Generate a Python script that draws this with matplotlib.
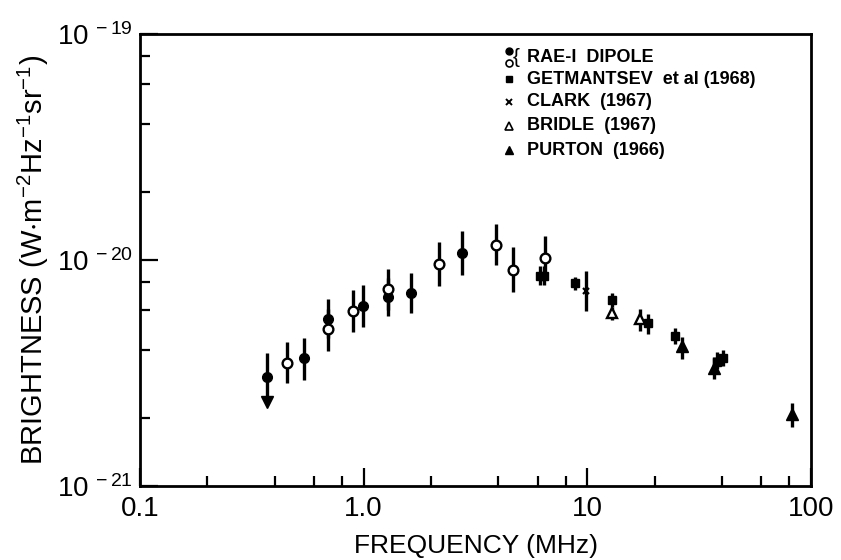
import matplotlib
matplotlib.use("Agg")
import matplotlib.pyplot as plt
from matplotlib.ticker import LogLocator, FixedLocator, NullFormatter, FixedFormatter
import numpy as np

plt.rcParams['font.family'] = ['Liberation Sans', 'DejaVu Sans']
plt.rcParams['mathtext.default'] = 'regular'

# RAE-1 dipole, filled circles: freq (MHz), brightness, upper, lower
rae_f_freq = [0.371, 0.54, 0.696, 0.99, 1.28, 1.62, 2.75]
rae_f_val = [3.05e-21, 3.67e-21, 5.5e-21, 6.24e-21, 6.84e-21, 7.14e-21, 1.071e-20]
rae_f_hi = [3.88e-21, 4.5e-21, 6.7e-21, 7.75e-21, 8.3e-21, 8.73e-21, 1.35e-20]
rae_f_lo = [2.45e-21, 2.94e-21, 4.5e-21, 5.04e-21, 5.65e-21, 5.81e-21, 8.59e-21]
rae_limit_freq = [0.371]
rae_limit_val = [2.36e-21]

# RAE-1 dipole, open circles
rae_o_freq = [0.452, 0.696, 0.894, 1.28, 2.18, 3.91, 4.63, 6.49]
rae_o_val = [3.50e-21, 4.97e-21, 5.95e-21, 7.42e-21, 9.57e-21, 1.165e-20, 9.06e-21, 1.017e-20]
rae_o_hi = [4.35e-21, 6.1e-21, 7.4e-21, 9.1e-21, 1.205e-20, 1.44e-20, 1.14e-20, 1.28e-20]
rae_o_lo = [2.85e-21, 3.97e-21, 4.82e-21, 6.0e-21, 7.67e-21, 9.5e-21, 7.24e-21, 8.16e-21]

# Getmantsev et al (1968), filled squares
get_freq = [6.12, 6.43, 8.84, 12.9, 18.6, 24.7, 38.0, 40.5]
get_val = [8.53e-21, 8.53e-21, 7.91e-21, 6.65e-21, 5.28e-21, 4.61e-21, 3.55e-21, 3.70e-21]
get_hi = [9.43e-21, 9.43e-21, 8.44e-21, 7.17e-21, 5.75e-21, 4.99e-21, 3.9e-21, 4.0e-21]
get_lo = [7.75e-21, 7.75e-21, 7.37e-21, 6.2e-21, 4.71e-21, 4.25e-21, 3.3e-21, 3.4e-21]

# Clark (1967), crosses
clark_freq = [9.87]
clark_val = [7.31e-21]
clark_hi = [8.94e-21]
clark_lo = [5.95e-21]

# Bridle (1967), open triangles
bridle_freq = [12.9, 17.2]
bridle_val = [5.81e-21, 5.47e-21]
bridle_hi = [6.2e-21, 6.05e-21]
bridle_lo = [5.43e-21, 4.87e-21]

# Purton (1966), filled triangles
purton_freq = [26.6, 37.0, 82.6]
purton_val = [4.16e-21, 3.32e-21, 2.08e-21]
purton_hi = [4.58e-21, 3.73e-21, 2.32e-21]
purton_lo = [3.64e-21, 2.99e-21, 1.83e-21]

x_ticks = [0.1, 1.0, 10, 100]
x_ticklabels = ['0.1', '1.0', '10', '100']
y_ticks = [1e-21, 1e-20, 1e-19]
y_ticklabels = [r'$10^{\,-21}$', r'$10^{\,-20}$', r'$10^{\,-19}$']

fig = plt.figure(figsize=(8.41, 5.6), dpi=100)
ax = fig.add_axes([0.1665, 0.1321, 0.7978, 0.8071])
ax.set_xscale('log')
ax.set_yscale('log')
ax.set_xlim(0.1, 100)
ax.set_ylim(1e-21, 1e-19)


def bars(freq, val, hi, lo):
    f = np.array(freq)
    v = np.array(val)
    yerr = [v - np.array(lo), np.array(hi) - v]
    ax.errorbar(f, v, yerr=yerr, fmt='none', ecolor='black', elinewidth=2.4, capsize=0, zorder=2)


bars(rae_f_freq, rae_f_val, rae_f_hi, rae_f_lo)
bars(rae_o_freq, rae_o_val, rae_o_hi, rae_o_lo)
bars(get_freq, get_val, get_hi, get_lo)
bars(clark_freq, clark_val, clark_hi, clark_lo)
bars(bridle_freq, bridle_val, bridle_hi, bridle_lo)
bars(purton_freq, purton_val, purton_hi, purton_lo)

ax.plot(rae_f_freq, rae_f_val, 'o', ms=7, mfc='black', mec='black', zorder=3)
ax.plot(rae_limit_freq, rae_limit_val, 'v', ms=9, mfc='black', mec='black', zorder=3)
ax.plot(rae_o_freq, rae_o_val, 'o', ms=7, mfc='white', mec='black', mew=1.7, zorder=4)
ax.plot(get_freq, get_val, 's', ms=6, mfc='black', mec='black', zorder=3)
ax.plot(clark_freq, clark_val, 'x', ms=5, mec='black', mew=1.6, zorder=3)
ax.plot(bridle_freq, bridle_val, '^', ms=7, mfc='white', mec='black', mew=1.7, zorder=4)
ax.plot(purton_freq, purton_val, '^', ms=8, mfc='black', mec='black', zorder=3)

# axes styling
for s in ax.spines.values():
    s.set_linewidth(2.0)
ax.xaxis.set_major_locator(FixedLocator(x_ticks))
ax.xaxis.set_major_formatter(FixedFormatter(x_ticklabels))
ax.xaxis.set_minor_locator(LogLocator(base=10, subs=(2, 4, 6, 8), numticks=20))
ax.xaxis.set_minor_formatter(NullFormatter())
ax.yaxis.set_major_locator(FixedLocator(y_ticks))
ax.yaxis.set_major_formatter(FixedFormatter(y_ticklabels))
ax.yaxis.set_minor_locator(LogLocator(base=10, subs=(2, 4, 6, 8), numticks=20))
ax.yaxis.set_minor_formatter(NullFormatter())
ax.tick_params(which='major', direction='in', length=13, width=1.6, labelsize=20, pad=7)
ax.tick_params(which='minor', direction='in', length=7, width=1.6)
ax.tick_params(axis='y', which='major', pad=5)

ax.set_xlabel('FREQUENCY (MHz)', fontsize=19, labelpad=9)
ax.set_ylabel(r'BRIGHTNESS (W$\cdot$m$^{-2}$Hz$^{-1}$sr$^{-1}$)', fontsize=21, labelpad=4)

# legend (drawn manually to reproduce the bracketed RAE-I entry)
tr = ax.transAxes
lx, tx = 0.550, 0.577
ax.plot([lx], [0.962], 'o', ms=5, mfc='black', mec='black', transform=tr, clip_on=False)
ax.plot([lx], [0.937], 'o', ms=5, mfc='white', mec='black', mew=1.2, transform=tr, clip_on=False)
ax.text(lx + 0.011, 0.949, '{', fontsize=15, ha='center', va='center', transform=tr)
fs = 13
ax.text(tx, 0.949, 'RAE-I  DIPOLE', fontsize=fs, fontweight='bold', va='center', transform=tr)
ax.plot([lx], [0.900], 's', ms=5, mfc='black', mec='black', transform=tr)
ax.text(tx, 0.900, 'GETMANTSEV  et al (1968)', fontsize=fs, fontweight='bold', va='center', transform=tr)
ax.plot([lx], [0.850], 'x', ms=4, mec='black', mew=1.4, transform=tr)
ax.text(tx, 0.850, 'CLARK  (1967)', fontsize=fs, fontweight='bold', va='center', transform=tr)
ax.plot([lx], [0.797], '^', ms=6, mfc='white', mec='black', mew=1.2, transform=tr)
ax.text(tx, 0.797, 'BRIDLE  (1967)', fontsize=fs, fontweight='bold', va='center', transform=tr)
ax.plot([lx], [0.743], '^', ms=6, mfc='black', mec='black', transform=tr)
ax.text(tx, 0.743, 'PURTON  (1966)', fontsize=fs, fontweight='bold', va='center', transform=tr)

fig.savefig('out.png', dpi=100)
